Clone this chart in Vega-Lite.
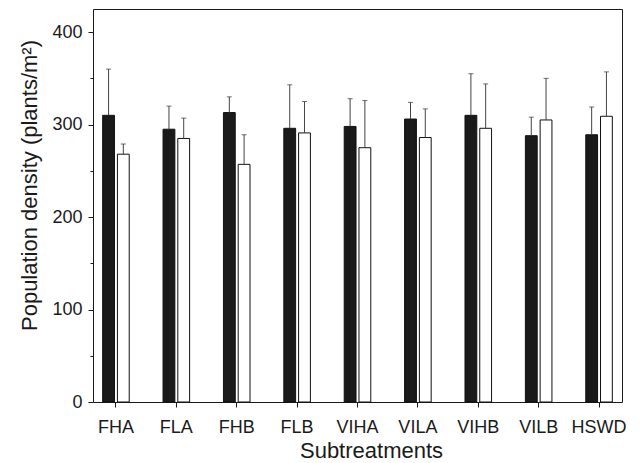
{
  "$schema": "https://vega.github.io/schema/vega-lite/v6.json",
  "width": 529,
  "height": 393,
  "autosize": {"type": "none"},
  "padding": {"left": 93, "top": 9, "right": 19, "bottom": 61},
  "background": "white",
  "config": {
    "font": "Liberation Sans",
    "view": {"stroke": "#1a1a1a", "strokeWidth": 1}
  },
  "data": {
    "values": [
      {"sub": "FHA", "group": "A", "mean": 310, "upper": 360},
      {"sub": "FHA", "group": "B", "mean": 268, "upper": 279},
      {"sub": "FLA", "group": "A", "mean": 295, "upper": 320},
      {"sub": "FLA", "group": "B", "mean": 285, "upper": 307},
      {"sub": "FHB", "group": "A", "mean": 313, "upper": 330},
      {"sub": "FHB", "group": "B", "mean": 257, "upper": 289},
      {"sub": "FLB", "group": "A", "mean": 296, "upper": 343},
      {"sub": "FLB", "group": "B", "mean": 291, "upper": 325},
      {"sub": "VIHA", "group": "A", "mean": 298, "upper": 328},
      {"sub": "VIHA", "group": "B", "mean": 275, "upper": 326},
      {"sub": "VILA", "group": "A", "mean": 306, "upper": 324},
      {"sub": "VILA", "group": "B", "mean": 286, "upper": 317},
      {"sub": "VIHB", "group": "A", "mean": 310, "upper": 355},
      {"sub": "VIHB", "group": "B", "mean": 296, "upper": 344},
      {"sub": "VILB", "group": "A", "mean": 288, "upper": 308},
      {"sub": "VILB", "group": "B", "mean": 305, "upper": 350},
      {"sub": "HSWD", "group": "A", "mean": 289, "upper": 319},
      {"sub": "HSWD", "group": "B", "mean": 309, "upper": 357}
    ]
  },
  "encoding": {
    "x": {
      "field": "sub", "type": "nominal", "sort": null,
      "scale": {"paddingInner": 0.56, "paddingOuter": 0.16},
      "axis": {
        "title": "Subtreatments", "labelAngle": 0, "domain": false,
        "tickColor": "#1a1a1a", "tickSize": 5, "labelPadding": 11,
        "labelFontSize": 18, "labelColor": "#1a1a1a",
        "labelFont": "Liberation Sans",
        "titleFontSize": 22, "titleFontWeight": "normal", "titleColor": "#1a1a1a",
        "titleFont": "Liberation Sans",
        "titleX": 278, "titleY": 55, "titleBaseline": "alphabetic", "titleAlign": "center"
      }
    },
    "xOffset": {"field": "group", "type": "nominal", "scale": {"paddingInner": 0.2, "paddingOuter": 0}}
  },
  "layer": [
    {
      "mark": {"type": "bar", "stroke": "#111111", "strokeWidth": 1},
      "encoding": {
        "y": {
          "field": "mean", "type": "quantitative",
          "scale": {"domain": [0, 425], "nice": false},
          "axis": {
            "title": "Population density (plants/m²)",
            "values": [0, 25, 50, 75, 100, 125, 150, 175, 200, 225, 250, 275, 300, 325, 350, 375, 400],
            "labelExpr": "datum.value % 100 === 0 ? datum.label : ''",
            "tickSize": {"condition": {"test": "datum.value % 100 === 0", "value": 5}, "value": 3},
            "domain": false, "grid": false,
            "tickColor": "#1a1a1a", "labelPadding": 6,
            "labelFontSize": 18, "labelColor": "#1a1a1a",
            "labelFont": "Liberation Sans",
            "titleFontSize": 22, "titleFontWeight": "normal", "titleColor": "#1a1a1a",
            "titleFont": "Liberation Sans",
            "titleAngle": -90, "titleX": -57, "titleY": 176,
            "titleAlign": "center", "titleBaseline": "alphabetic"
          }
        },
        "fill": {
          "field": "group", "type": "nominal",
          "scale": {"domain": ["A", "B"], "range": ["#1a1a1a", "#ffffff"]},
          "legend": null
        }
      }
    },
    {
      "mark": {"type": "rule", "color": "#444444", "strokeWidth": 1},
      "encoding": {
        "y": {"field": "mean", "type": "quantitative"},
        "y2": {"field": "upper"}
      }
    },
    {
      "mark": {"type": "tick", "color": "#333333", "thickness": 1, "size": 5, "orient": "horizontal"},
      "encoding": {
        "y": {"field": "upper", "type": "quantitative"}
      }
    }
  ]
}
